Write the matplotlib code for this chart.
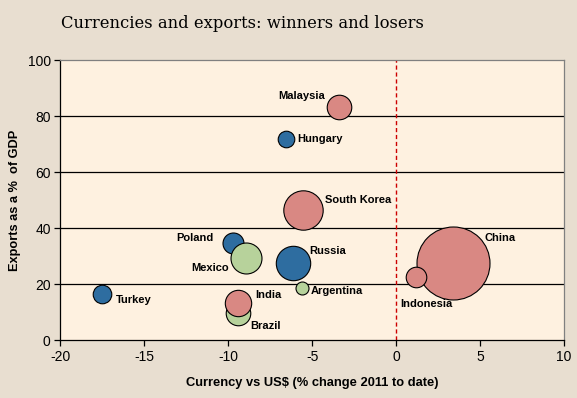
import matplotlib
matplotlib.use("Agg")
import matplotlib.pyplot as plt
import numpy as np

plt.rcParams["axes.unicode_minus"] = False

# country, currency change vs US$ (%), exports as % of GDP, bubble size (exports, $bn approx)
countries = ["China", "South Korea", "Malaysia", "India", "Indonesia",
             "Russia", "Poland", "Turkey", "Hungary",
             "Mexico", "Brazil", "Argentina"]
currency_change = [3.37, -5.53, -3.42, -9.41, 1.17,
                   -6.17, -9.74, -17.5, -6.58,
                   -8.97, -9.43, -5.62]
exports_gdp = [27.4, 46.4, 83.3, 13.1, 22.6,
               27.4, 34.8, 16.4, 71.8,
               29.2, 9.75, 18.6]
bubble_size = [1900, 553, 215, 248, 151,
               422, 157, 123, 98,
               342, 215, 60]
group = ["pink", "pink", "pink", "pink", "pink",
         "blue", "blue", "blue", "blue",
         "green", "green", "green"]

colors = {"blue": "#2E6DA0", "green": "#B7D29B", "pink": "#D98883"}
draw_order = ["blue", "green", "pink"]

# label offsets in pixels from bubble centre (dx, dy, ha)
label_pos = {
    "Malaysia": (-14, 11, "right"),
    "Hungary": (12, 0, "left"),
    "South Korea": (22, 10, "left"),
    "Poland": (-19, 5, "right"),
    "Mexico": (-17, -10, "right"),
    "Russia": (17, 12, "left"),
    "Argentina": (9, -3, "left"),
    "Turkey": (14, -6, "left"),
    "India": (17, 8, "left"),
    "Brazil": (12, -13, "left"),
    "China": (32, 25, "left"),
    "Indonesia": (-16, -27, "left"),
}

fig_bg = "#E8DED0"
ax_bg = "#FEF1E0"
sans = ["Liberation Sans", "DejaVu Sans"]

fig = plt.figure(figsize=(5.77, 3.98), dpi=100, facecolor=fig_bg)
ax = fig.add_axes([60.4 / 577, 1 - 340 / 398, (564 - 60.4) / 577, 280 / 398])
ax.set_facecolor(ax_bg)

ax.set_xlim(-20, 10)
ax.set_ylim(0, 100)
ax.set_xticks(np.arange(-20, 11, 5))
ax.set_yticks(np.arange(0, 101, 20))
for y in [20, 40, 60, 80]:
    ax.axhline(y, color="black", lw=0.9, zorder=1)
ax.axvline(0, color="#CC0000", lw=1.0, ls=(0, (3, 2)), zorder=1)

# bubble radius in pixels for largest value
r_max = 36.5
vmax = max(bubble_size)
z = 3
for g in draw_order:
    idx = [i for i in range(len(countries)) if group[i] == g]
    idx.sort(key=lambda i: -bubble_size[i])
    for i in idx:
        r = r_max * np.sqrt(bubble_size[i] / vmax)
        s = (2 * r * 0.72) ** 2
        ax.scatter(currency_change[i], exports_gdp[i], s=s, c=colors[g],
                   edgecolors="black", linewidths=0.8, zorder=z)
        z += 1

for i, name in enumerate(countries):
    dx, dy, ha = label_pos[name]
    ax.annotate(name, (currency_change[i], exports_gdp[i]), xytext=(dx, dy),
                textcoords="offset pixels", ha=ha, va="center",
                fontsize=8, fontweight="bold", family="Liberation Sans", zorder=50)

for side in ["top", "right"]:
    ax.spines[side].set_color("#808080")
for side in ["left", "bottom"]:
    ax.spines[side].set_color("black")
for sp in ax.spines.values():
    sp.set_linewidth(0.9)
    sp.set_zorder(2)

ax.tick_params(axis="both", direction="out", length=4, width=0.9, color="black",
               labelsize=10, pad=3)
for lab in ax.get_xticklabels() + ax.get_yticklabels():
    lab.set_family(sans)

fig.text(61 / 577, 1 - 23 / 398, "Currencies and exports: winners and losers",
         family="DejaVu Serif", fontsize=11.8, ha="left", va="center")
fig.text(312 / 577, 1 - 383 / 398, "Currency vs US$ (% change 2011 to date)",
         family=sans, fontweight="bold", fontsize=9.3, ha="center", va="center")
fig.text(15 / 577, 1 - 200 / 398, "Exports as a %  of GDP", rotation=90,
         family=sans, fontweight="bold", fontsize=9.2, ha="center", va="center")

fig.savefig("out.png", dpi=100, facecolor=fig_bg)
